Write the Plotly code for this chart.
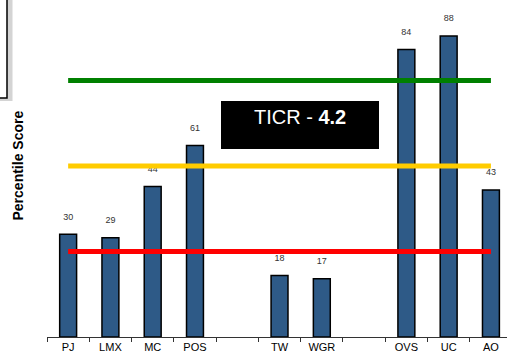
import plotly.graph_objects as go

categories = ["PJ", "LMX", "MC", "POS", " ", "TW", "WGR", "  ", "OVS", "UC", "AO"]
bar_heights = [30, 29, 44, 56, None, 18, 17, None, 84, 88, 43]
score_labels = ["30", "29", "44", "61", "", "18", "17", "", "84", "88", "43"]
benchmarks = [75, 50, 25]
benchmark_colors = ["#008000", "#FFCC00", "#FF0000"]
ticr_text = "TICR - <b>4.2</b>"
y_title = "Percentile Score"

W, H = 507, 353
L, R, T, B = 47, 0, 0, 16
pw, ph = W - L - R, H - T - B


def px_x(p):
    return (p - L) / pw


def px_y(p):
    return (H - B - p) / ph


fig = go.Figure()
fig.add_trace(go.Bar(
    x=categories, y=bar_heights, width=0.4,
    marker=dict(color="#2E5A87", line=dict(color="#000000", width=1.5)),
    hoverinfo="skip", showlegend=False,
))
lab_x = [c for c, h in zip(categories, bar_heights) if h is not None]
lab_y = [h + 5 for h in bar_heights if h is not None]
lab_t = [t for t, h in zip(score_labels, bar_heights) if h is not None]
fig.add_trace(go.Scatter(
    x=lab_x, y=lab_y, text=lab_t, mode="text", textposition="middle center",
    textfont=dict(family="Arial, Liberation Sans", size=9, color="#333333"),
    cliponaxis=False, showlegend=False, hoverinfo="skip",
))
for v, c in zip(benchmarks, benchmark_colors):
    fig.add_trace(go.Scatter(
        x=[categories[0], categories[-1]], y=[v, v], mode="lines",
        line=dict(color=c, width=5), showlegend=False, hoverinfo="skip",
    ))

# black TICR box
fig.add_shape(type="rect", xref="paper", yref="paper",
              x0=px_x(221), x1=px_x(379), y0=px_y(149), y1=px_y(101),
              fillcolor="#000000", line=dict(width=0), layer="above")
fig.add_annotation(xref="paper", yref="paper", x=px_x(300), y=px_y(117),
                   xanchor="center", yanchor="middle",
                   text=ticr_text, showarrow=False,
                   font=dict(family="Arial, Liberation Sans", size=20, color="#FFFFFF"))

# partial box at top-left
fig.add_shape(type="rect", xref="paper", yref="paper",
              x0=px_x(-20), x1=px_x(12.5), y0=px_y(101), y1=px_y(-20),
              fillcolor="#D4D4D4", line=dict(width=0), layer="above")
fig.add_shape(type="rect", xref="paper", yref="paper",
              x0=px_x(-20), x1=px_x(7), y0=px_y(98), y1=px_y(-20),
              fillcolor="#FFFFFF", line=dict(color="#000000", width=1.5), layer="above")

fig.add_annotation(xref="paper", yref="paper", x=px_x(17.5), y=px_y(166),
                   xanchor="center", yanchor="middle",
                   text="<b>" + y_title + "</b>", textangle=-90, showarrow=False,
                   font=dict(family="Arial, Liberation Sans", size=14, color="#000000"))

fig.update_layout(
    width=W, height=H,
    margin=dict(l=L, r=R, t=T, b=B, pad=0),
    paper_bgcolor="#FFFFFF", plot_bgcolor="#FFFFFF",
    bargap=0.6,
    xaxis=dict(
        type="category", categoryorder="array", categoryarray=categories,
        range=[-0.5, 10.38], showgrid=False, zeroline=False,
        showline=True, linecolor="#333333", linewidth=1,
        ticks="outside", tickson="boundaries", ticklen=4, tickcolor="#333333",
        tickfont=dict(family="Arial, Liberation Sans", size=11, color="#000000"),
    ),
    yaxis=dict(range=[0, 98.5], visible=False),
)

fig.write_html(
    "out.html",
    config={"displayModeBar": False},
    post_script="document.body.style.margin='0';document.body.style.overflow='hidden';",
)
